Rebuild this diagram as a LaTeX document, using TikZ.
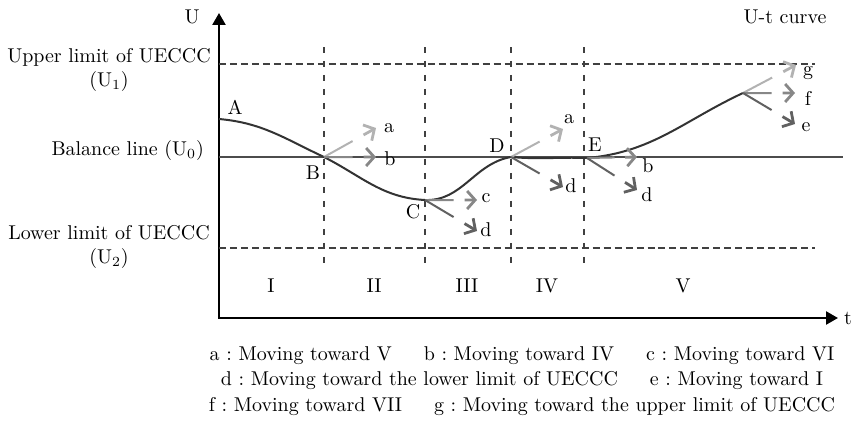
\documentclass[tikz,border=0pt]{standalone}
\usetikzlibrary{calc,arrows.meta}
\newcommand{\Trend}[3]%
% start, tip, colour
{   \draw[#3, line width=1pt] (#1) -- ($(#1)!0.55!(#2)$);
    \draw[#3, line width=1.4pt, -{Straight Barb[length=4pt,width=9pt]}]
        ($(#1)!0.76!(#2)$) -- (#2);
}

\begin{document}
\frenchspacing
\begin{tikzpicture}
[   x=0.0176cm, y=0.0176cm,
    axis/.style={line width=1.2pt, {Triangle[length=6pt,width=6.5pt]}-{Triangle[length=6pt,width=6.5pt]}},
    limit/.style={black!75, line width=0.6pt, dash pattern=on 3.5pt off 2pt},
    zone/.style={black!75, line width=0.6pt, dash pattern=on 3pt off 4pt},
    balance/.style={black!70, line width=0.8pt},
    curve/.style={black!80, line width=1pt},
    light/.style={black!30}, mid/.style={black!47}, dark/.style={black!62}
]
    \useasboundingbox (0,0) rectangle (853,421);

    % axes
    \coordinate (Utop) at (219,408);
    \coordinate (O) at (219,103);
    \coordinate (tend) at (838,103);
    \draw[axis] (Utop) -- (O) -- (tend);
    \node (Ulabel) at (192,404) {U};
    \node (tlabel) at (848,103) {t};
    \node (title) at (785,404) {U-t curve};

    % limits and balance line
    \coordinate (U1l) at (219,357); \coordinate (U1r) at (815,357);
    \coordinate (U0l) at (219,264); \coordinate (U0r) at (843,264);
    \coordinate (U2l) at (219,173); \coordinate (U2r) at (815,173);
    \draw[limit] (U1l) -- (U1r);
    \draw[balance] (U0l) -- (U0r);
    \draw[limit] (U2l) -- (U2r);
    \node[align=center] (U1txt) at (109,351) {Upper limit of UECCC\\(U$_1$)};
    \node[anchor=east] (U0txt) at (211,270) {Balance line (U$_0$)};
    \node[align=center] (U2txt) at (109,174) {Lower limit of UECCC\\(U$_2$)};

    % zones
    \foreach \x in {324,425,511,584}
        \draw[zone] (\x,374) -- (\x,151);
    \foreach \x/\z in {271/I,374/II,467/III,547/IV,683/V}
        \node (zone\z) at (\x,135) {\z};

    % U-t curve
    \coordinate (A) at (219,302);
    \coordinate (B) at (324,264);
    \coordinate (C) at (425,221);
    \coordinate (D) at (511,264);
    \coordinate (E) at (587,263);
    \coordinate (P) at (743,328);
    \draw[curve] (A) to[out=-5,in=155] (B) to[out=-27,in=177]
        (C) to[out=-2,in=190] (D) to[out=-5,in=178]
        (E) to[out=5,in=205] (P);
    \node (Atxt) at (235,314) {A};
    \node (Btxt) at (313,248) {B};
    \node (Ctxt) at (413,209) {C};
    \node (Dtxt) at (497,275) {D};
    \node (Etxt) at (595,276) {E};

    % trends
    \coordinate (aBt) at (376,293); \coordinate (bBt) at (376,264);
    \coordinate (cCt) at (477,221); \coordinate (dCt) at (477,190);
    \coordinate (aDt) at (563,292); \coordinate (dDt) at (563,234);
    \coordinate (bEt) at (637,264); \coordinate (dEt) at (637,231);
    \coordinate (gPt) at (796,356); \coordinate (fPt) at (795,328);
    \coordinate (ePt) at (795,297);
    \Trend{B}{aBt}{light}
    \Trend{B}{bBt}{mid}
    \Trend{C}{cCt}{mid}
    \Trend{C}{dCt}{dark}
    \Trend{D}{aDt}{light}
    \Trend{D}{dDt}{dark}
    \Trend{E}{bEt}{mid}
    \Trend{E}{dEt}{dark}
    \Trend{P}{gPt}{light}
    \Trend{P}{fPt}{mid}
    \Trend{P}{ePt}{dark}
    \node (aB) at (389,293) {a};
    \node (bB) at (390,262) {b};
    \node (cC) at (486,223) {c};
    \node (dC) at (486,191) {d};
    \node (aD) at (569,302) {a};
    \node (dD) at (571,235) {d};
    \node (bE) at (648,255) {b};
    \node (dE) at (647,226) {d};
    \node (gP) at (808,348) {g};
    \node (fP) at (808,323) {f};
    \node (eP) at (806,294) {e};

    % key
    \node (key1) at (522,65) {a : Moving toward V\hspace{1.6em}b : Moving toward IV\hspace{1.6em}c : Moving toward VI};
    \node (key2) at (522,40) {d : Moving toward the lower limit of UECCC\hspace{1.6em}e : Moving toward I};
    \node (key3) at (522,14) {f : Moving toward VII\hspace{1.6em}g : Moving toward the upper limit of UECCC};
\end{tikzpicture}
\end{document}
